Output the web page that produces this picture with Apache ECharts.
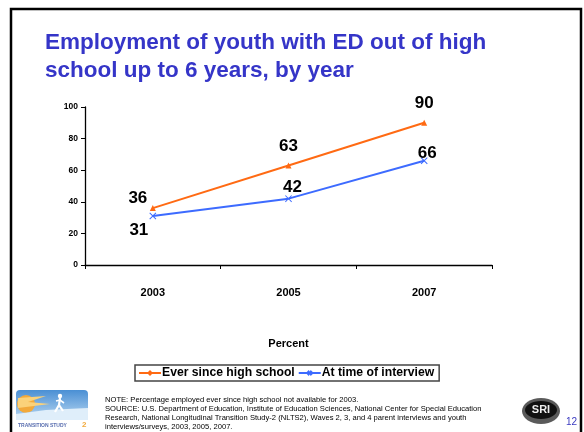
<!DOCTYPE html>
<html>
<head>
<meta charset="utf-8">
<script src="https://cdn.jsdelivr.net/npm/echarts@6/dist/echarts.min.js"></script>
<style>
  html, body { margin: 0; padding: 0; background: #fff; }
  #chart { width: 584px; height: 432px; }
</style>
</head>
<body>
<div id="chart"></div>
<script>
// Employment of youth with emotional disturbance, by survey year
const years = ['2003', '2005', '2007'];
const everSinceHighSchool = [36, 63, 90];
const atTimeOfInterview = [31, 42, 66];
const yTicks = { min: 0, max: 100, interval: 20 };

const titleLines = ['Employment of youth with ED out of high', 'school up to 6 years, by year'];
const noteLines = [
  'NOTE: Percentage employed ever since high school not available for 2003.',
  'SOURCE: U.S. Department of Education, Institute of Education Sciences, National Center for Special Education',
  'Research, National Longitudinal Transition Study-2 (NLTS2), Waves 2, 3, and 4 parent interviews and youth',
  'interviews/surveys, 2003, 2005, 2007.'
];

const ORANGE = '#ff6a13';
const BLUE = '#3d6bff';
const FONT = '"Liberation Sans", Arial, sans-serif';
const crossPath = 'path://M0,1L1,0L5,4L9,0L10,1L6,5L10,9L9,10L5,6L1,10L0,9L4,5Z';

// per-point label placement so numbers sit clear of the lines
const everOffsets = [[-15, 10], [0, 0], [0, 0]];
const atOffsets = [[-14, 34], [4, 9], [3, 13]];

function labelled(values, offsets) {
  return values.map((v, i) => ({
    value: v,
    label: { offset: offsets[i] }
  }));
}

const chart = echarts.init(document.getElementById('chart'), null, { renderer: 'canvas' });

chart.setOption({
  backgroundColor: '#fff',
  animation: false,
  grid: { left: 85, right: 92, top: 107, height: 158, containLabel: false },
  xAxis: {
    type: 'category',
    data: years,
    boundaryGap: true,
    axisLine: { lineStyle: { color: '#000', width: 1.3 } },
    axisTick: { show: true, length: 4, lineStyle: { color: '#000' } },
    axisLabel: { color: '#000', fontFamily: FONT, fontWeight: 'bold', fontSize: 11, margin: 22 },
    name: 'Percent',
    nameLocation: 'middle',
    nameGap: 73,
    nameTextStyle: { color: '#000', fontFamily: FONT, fontWeight: 'bold', fontSize: 11 }
  },
  yAxis: {
    type: 'value',
    min: yTicks.min,
    max: yTicks.max,
    interval: yTicks.interval,
    splitLine: { show: false },
    axisLine: { show: true, lineStyle: { color: '#000', width: 1.3 } },
    axisTick: { show: true, length: 4, lineStyle: { color: '#000' } },
    axisLabel: { color: '#000', fontFamily: FONT, fontWeight: 'bold', fontSize: 8.5, margin: 7 }
  },
  legend: {
    left: 135,
    top: 365,
    width: 310,
    padding: [2, 5, 2, 4],
    itemGap: 4,
    itemWidth: 22,
    itemHeight: 6,
    borderColor: '#444',
    borderWidth: 1.5,
    textStyle: { color: '#000', fontFamily: FONT, fontWeight: 'bold', fontSize: 12.2, padding: [0, 0, 0, -4] },
    data: [
      { name: 'Ever since high school', icon: 'path://M0,2.1L9,2.1L11,0L13,2.1L22,2.1L22,3.9L13,3.9L11,6L9,3.9L0,3.9Z' },
      { name: 'At time of interview', icon: 'path://M0,2.1L8,2.1L9,1L10,0L11,1.6L12,0L13,1L14,2.1L22,2.1L22,3.9L14,3.9L13,5L12,6L11,4.4L10,6L9,5L8,3.9L0,3.9Z' }
    ]
  },
  series: [
    {
      name: 'Ever since high school',
      type: 'line',
      data: labelled(everSinceHighSchool, everOffsets),
      symbol: 'triangle',
      symbolSize: 6,
      lineStyle: { color: ORANGE, width: 2 },
      itemStyle: { color: ORANGE },
      label: {
        show: true,
        position: 'top',
        distance: 8,
        color: '#000',
        fontFamily: FONT,
        fontWeight: 'bold',
        fontSize: 17
      }
    },
    {
      name: 'At time of interview',
      type: 'line',
      data: labelled(atTimeOfInterview, atOffsets),
      symbol: crossPath,
      symbolSize: 7,
      lineStyle: { color: BLUE, width: 2 },
      itemStyle: { color: BLUE },
      label: {
        show: true,
        position: 'top',
        distance: 8,
        color: '#000',
        fontFamily: FONT,
        fontWeight: 'bold',
        fontSize: 17
      }
    }
  ],
  graphic: [
    // slide frame
    { type: 'rect', shape: { x: 11, y: 9, width: 570, height: 440 }, style: { fill: 'none', stroke: '#000', lineWidth: 2.5 }, silent: true },
    // heading
    { type: 'text', left: 45, top: 31, style: { text: titleLines[0], fill: '#3535c8', font: 'bold 22.5px ' + FONT } },
    { type: 'text', left: 45, top: 59, style: { text: titleLines[1], fill: '#3535c8', font: 'bold 22.5px ' + FONT } },
    // footnote
    { type: 'text', left: 105, top: 395, style: { text: noteLines.join('\n'), fill: '#000', font: '7.6px ' + FONT, lineHeight: 9 } },
    // study logo
    {
      type: 'group', left: 16, top: 390, children: [
        { type: 'rect', shape: { x: 0, y: 0, width: 72, height: 30, r: 4 }, style: { fill: new echarts.graphic.LinearGradient(0, 0, 0, 1, [{ offset: 0, color: '#4a8fd4' }, { offset: 1, color: '#b9d8f2' }]) } },
        { type: 'circle', shape: { cx: 10, cy: 14, r: 9 }, style: { fill: '#f2a93b' } },
        { type: 'polygon', shape: { points: [[2, 8], [30, 6], [12, 12], [34, 14], [2, 18]] }, style: { fill: '#fbd27a' } },
        { type: 'polygon', shape: { points: [[0, 30], [0, 24], [30, 20], [72, 18], [72, 30]] }, style: { fill: '#dfeefa' } },
        { type: 'circle', shape: { cx: 44, cy: 6, r: 2.2 }, style: { fill: '#fff' } },
        { type: 'polyline', shape: { points: [[44, 8], [43, 15], [39, 22]] }, style: { stroke: '#fff', lineWidth: 2.2 } },
        { type: 'polyline', shape: { points: [[43, 15], [47, 21]] }, style: { stroke: '#fff', lineWidth: 2.2 } },
        { type: 'polyline', shape: { points: [[40, 11], [44, 10], [48, 13]] }, style: { stroke: '#fff', lineWidth: 1.6 } },
        { type: 'text', x: 2, y: 33, style: { text: 'TRANSITION STUDY', fill: '#5a6fb0', font: 'bold 5px ' + FONT } },
        { type: 'text', x: 66, y: 31, style: { text: '2', fill: '#f2a93b', font: 'bold 8px ' + FONT } }
      ]
    },
    // institute logo and page number
    {
      type: 'group', left: 522, top: 398, children: [
        { type: 'ellipse', shape: { cx: 19, cy: 13, rx: 19, ry: 13 }, style: { fill: '#5a5a5a' } },
        { type: 'ellipse', shape: { cx: 19, cy: 12, rx: 16, ry: 9 }, style: { fill: '#111' } },
        { type: 'text', x: 19, y: 12, style: { text: 'SRI', fill: '#eee', font: 'bold 11px ' + FONT, align: 'center', verticalAlign: 'middle' } }
      ]
    },
    { type: 'text', left: 566, top: 417, style: { text: '12', fill: '#3a3ac0', font: '10px ' + FONT } }
  ]
});
</script>
</body>
</html>
